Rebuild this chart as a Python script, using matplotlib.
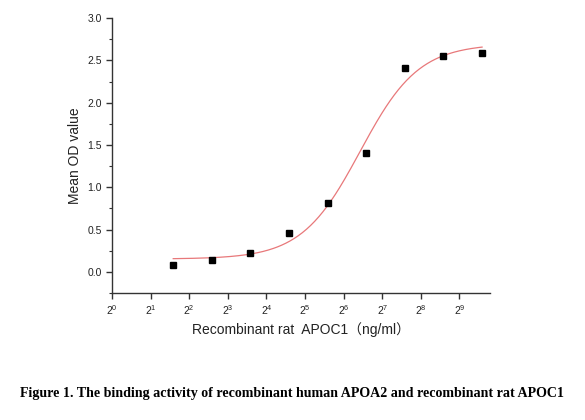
import numpy as np
import matplotlib
matplotlib.use("Agg")
import matplotlib.pyplot as plt
from matplotlib.ticker import MultipleLocator, FixedLocator

# Data
conc = [3, 6, 12, 24, 48, 96, 192, 384, 768]          # ng/ml
od = [0.083, 0.145, 0.224, 0.464, 0.815, 1.405, 2.41, 2.555, 2.585]
xtick_exps = list(range(0, 10))
caption = "Figure 1. The binding activity of recombinant human APOA2 and recombinant rat APOC1"
xlabel = "Recombinant rat  APOC1\uff08ng/ml\uff09"
ylabel = "Mean OD value"

x = np.array(conc, float)
y = np.array(od, float)

def logistic(p, xx):
    a1, a2, x0, h = p
    return a2 + (a1 - a2) / (1.0 + (xx / x0) ** h)

def fit(p0):
    p = np.array(p0, float)
    lam = 1e-2
    def res(pp):
        return logistic(pp, x) - y
    for _ in range(500):
        r = res(p)
        J = np.zeros((len(x), 4))
        for i in range(4):
            d = np.zeros(4); d[i] = 1e-6 * max(1.0, abs(p[i]))
            J[:, i] = (res(p + d) - r) / d[i]
        A = J.T @ J
        g = J.T @ r
        step = np.linalg.solve(A + lam * np.diag(np.diag(A)), -g)
        pn = p + step
        if pn[2] > 0 and np.sum(res(pn) ** 2) < np.sum(r ** 2):
            p = pn; lam *= 0.3
        else:
            lam *= 10
    return p

params = fit([0.15, 2.7, 90.0, 2.0])

plt.rcParams['font.family'] = ['Liberation Sans', 'Noto Sans CJK SC', 'DejaVu Sans']
plt.rcParams['mathtext.fontset'] = 'custom'
plt.rcParams['mathtext.rm'] = 'Liberation Sans'
plt.rcParams['mathtext.it'] = 'Liberation Sans'

fig = plt.figure(figsize=(5.85, 4.2), dpi=100)
ax = fig.add_axes([0.1915, 0.3024, 0.8376 - 0.1915, 0.957 - 0.3024])

xs = np.logspace(np.log2(conc[0]), np.log2(conc[-1]), 300, base=2)
ax.plot(xs, logistic(params, xs), color='#e8787a', lw=0.9, zorder=2)
ax.plot(x, y, 's', color='black', ms=4.3, zorder=3)

ax.set_xscale('log', base=2)
ax.set_xlim(1, 2 ** 9.79)
ax.set_ylim(-0.25, 3.0)
ax.xaxis.set_major_locator(FixedLocator([2 ** e for e in xtick_exps]))
ax.xaxis.set_minor_locator(FixedLocator([]))
ax.set_xticklabels([r'$2^{%d}$' % e for e in xtick_exps])
ax.yaxis.set_major_locator(MultipleLocator(0.5))
ax.yaxis.set_minor_locator(MultipleLocator(0.25))
ax.yaxis.set_major_formatter(matplotlib.ticker.FormatStrFormatter('%.1f'))

for s in ['top', 'right']:
    ax.spines[s].set_visible(False)
for s in ['left', 'bottom']:
    ax.spines[s].set_linewidth(1.0)
    ax.spines[s].set_color('#333333')

ax.tick_params(axis='both', which='major', direction='out', length=4, width=1.0,
               labelsize=7.5, colors='#333333', labelcolor='#222222')
ax.tick_params(axis='y', which='minor', direction='out', length=2, width=0.8, colors='#333333')
ax.tick_params(axis='x', pad=3)

ax.set_xlabel(xlabel, fontsize=10, color='#222222', labelpad=4)
ax.set_ylabel(ylabel, fontsize=10, color='#222222', labelpad=4)

fig.text(0.5, 0.062, caption, ha='center', va='center', fontsize=10.1,
         fontweight='bold', family=['Liberation Serif'])

fig.savefig('out.png', dpi=100, facecolor='white')
